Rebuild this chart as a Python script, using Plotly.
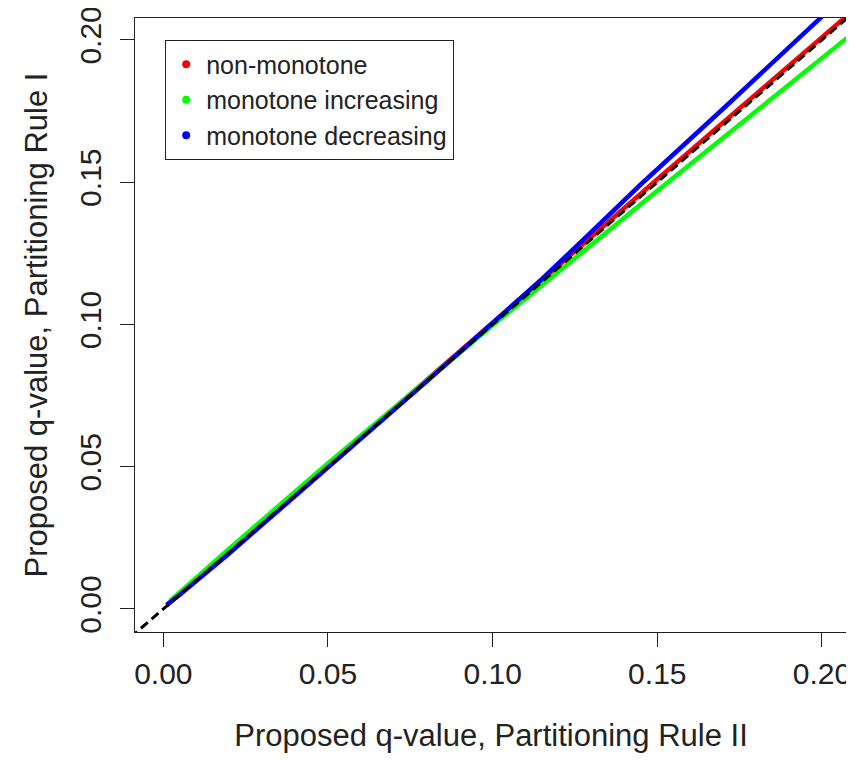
import plotly.graph_objects as go

# ---- data (x = Rule II q-value, y = Rule I q-value) ----
red_x = [0.001, 0.02, 0.05, 0.08, 0.10, 0.12, 0.15, 0.18, 0.2076]
red_y = [0.0012, 0.0202, 0.0502, 0.0802, 0.1003, 0.1207, 0.1510, 0.1812, 0.2085]

green_x = [0.002, 0.02, 0.05, 0.08, 0.10, 0.12, 0.1469, 0.175, 0.2076]
green_y = [0.0028, 0.0212, 0.0512, 0.0805, 0.0997, 0.1185, 0.1441, 0.1703, 0.2007]

blue_x = [0.001, 0.005, 0.02, 0.05, 0.08, 0.10, 0.115, 0.13, 0.1448, 0.17, 0.1994, 0.21]
blue_y = [0.0015, 0.0050, 0.0195, 0.0495, 0.0800, 0.1005, 0.1160, 0.1325, 0.1490, 0.1758, 0.2077, 0.2190]

diag_x = [-0.01, 0.21]
diag_y = [-0.01, 0.21]

series_names = ["non-monotone", "monotone increasing", "monotone decreasing"]
series_colors = ["#FF0000", "#00FF00", "#0000FF"]

tick_vals = [0.00, 0.05, 0.10, 0.15, 0.20]
tick_text = ["0.00", "0.05", "0.10", "0.15", "0.20"]

x_title = "Proposed q-value, Partitioning Rule II"
y_title = "Proposed q-value, Partitioning Rule I"

fig = go.Figure()

for xs, ys, col in zip([red_x, green_x, blue_x], [red_y, green_y, blue_y], series_colors):
    fig.add_trace(go.Scatter(x=xs, y=ys, mode="lines",
                             line=dict(color=col, width=4.5),
                             showlegend=False, hoverinfo="skip"))

fig.add_trace(go.Scatter(x=diag_x, y=diag_y, mode="lines",
                         line=dict(color="black", width=3, dash="9px,5px"),
                         showlegend=False, hoverinfo="skip"))

# legend entries (dots)
for name, col in zip(series_names, series_colors):
    fig.add_trace(go.Scatter(x=[None], y=[None], mode="markers",
                             marker=dict(color=col, size=8),
                             name=name))

axis_common = dict(
    showgrid=False, zeroline=False, automargin=False,
    showline=True, mirror=True, linecolor="#222222", linewidth=1.3,
    ticks="outside", ticklen=14, tickwidth=1.3, tickcolor="#222222",
    tickvals=tick_vals, ticktext=tick_text, ticklabeloverflow="allow",
    tickfont=dict(size=30, color="#222222"),
)

fig.update_layout(
    width=839, height=745,
    margin=dict(l=127, r=0, t=10, b=121),
    plot_bgcolor="white", paper_bgcolor="white",
    font=dict(family="Liberation Sans, Arial, sans-serif", size=30, color="#222222"),
    xaxis=dict(range=[-0.0086, 0.2076],
               title=dict(text=x_title, standoff=49, font=dict(size=31)),
               ticklabelstandoff=1, **axis_common),
    yaxis=dict(range=[-0.0081, 0.2077], tickangle=-90,
               title=dict(text=y_title, standoff=16, font=dict(size=31)),
               ticklabelstandoff=7, **axis_common),
    legend=dict(x=0.042, y=0.964, xanchor="left", yanchor="top",
                bordercolor="#222222", borderwidth=1.3, bgcolor="white",
                font=dict(size=25, color="#222222"),
                itemwidth=30, tracegroupgap=0),
)

fig.write_html("out.html")
